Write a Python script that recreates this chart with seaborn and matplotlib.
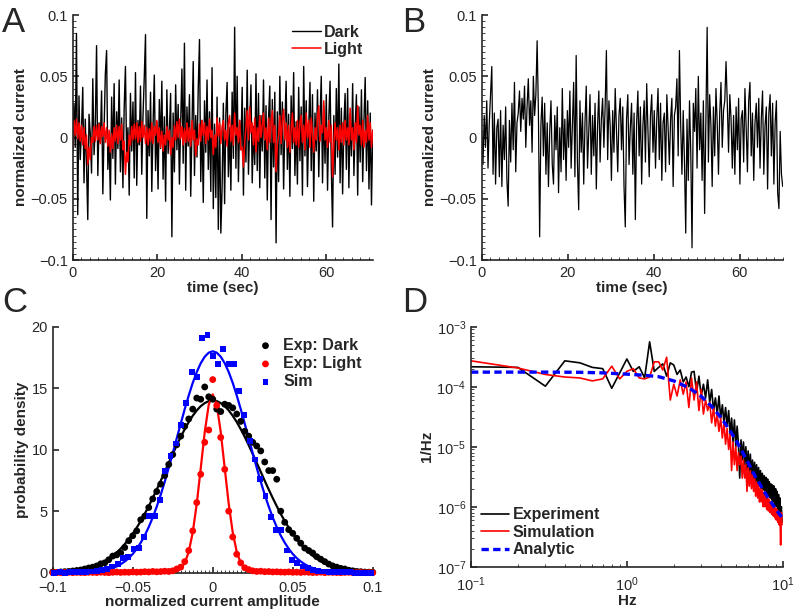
import matplotlib
matplotlib.use("Agg")
import matplotlib.pyplot as plt
from matplotlib.ticker import MultipleLocator
import numpy as np
import seaborn as sns

# ---- panel A: dark / light current traces (values in 1e-3 units of normalized current)
dark_a = [
    -12, 28, -8, 85, -63, 34, -18, 6, 41, -37, 15, -22, -67, 19, 3, -29, 48, -14, 9, 75,
    -31, 12, -4, 38, -46, 7, 52, 71, -26, 2, -51, 33, -17, 44, -38, 21, -9, 47, -28, 16,
    -41, 24, 58, -19, 8, -47, 36, -11, 29, -33, 53, -39, 14, -6, 42, -30, 18, 49, 84, -66,
    22, -15, 37, -44, 10, 51, -27, 13, -42, 31, -9, 46, -34, 17, -52, 39, -13, 5, 36, -81,
    20, -28, 43, -10, 27, -38, 12, 56, -21, 77, -43, 25, -7, 35, -48, 9, 62, -31, 18, -16,
    40, 80, -36, 14, -53, 30, -12, 47, -26, 21, -44, 57, -58, 11, -49, 33, -75, 16, -78, -41,
    28, -54, 19, 45, -32, 8, -43, 37, -17, 90, -25, 50, -36, 14, -10, 41, -47, 24, -20, 55,
    -30, 12, 43, -37, 9, -22, 52, -27, 36, -41, 18, -11, 47, -33, 26, -51, 15, 42, -67, 31,
    -24, 37, -86, 21, -36, 50, -14, 29, -42, 10, 46, -26, 19, -48, 34, -9, 53, -31, 13, -38,
    41, -19, 25, -47, 58, -15, 30, -40, 8, 45, -27, 35, -52, 20, -11, 39, -32, 14, 50, -37,
    26, -21, 35, -43, 15, 46, -25, -73, 18, -30, 40, -16, 60, -37, 24, -46, 10, 36, -26, 40,
    -41, 19, -15, 44, -31, 9, 35, -47, 25, -20, 39, -36, 13, 49, -27, 30, -42, 20, -55, 6,
]
light_a = [
    -8, 14, 2, 15, -1, 12, -3, 10, -6, 8, -9, 2, -22, -8, -18, 0, -4, 9, -3, 10,
    -2, 11, -5, 9, 1, 12, -4, 8, -7, 6, -12, 3, -9, 8, -3, 10, -5, 9, -2, 11,
    -10, -3, -30, -12, -20, 2, -6, 9, -2, 11, -1, 12, -4, 9, -3, 13, 0, 10, -5, 8,
    -6, 7, -3, 12, -5, 9, 2, 14, -4, 8, -8, 5, -11, 2, -6, 9, -2, 6, -14, 0,
    -8, 10, -2, 13, 0, 15, -1, 9, -6, 7, -4, 12, -3, 8, -7, 14, -2, 6, -15, -1,
    -6, 11, -3, 14, 2, 12, -5, 9, -2, 15, 0, 6, -14, 2, -8, 16, 1, 12, -5, 9,
    14, -2, 6, -7, 12, 18, -3, 10, -6, 20, 2, 8, -4, 14, -10, -8, -24, -4, 8, 22,
    -2, 25, 4, 12, -6, 16, -12, 8, -3, 18, 0, 10, 20, -2, 8, -10, 16, -4, 12, 22,
    -4, 10, -28, -6, 2, 18, -5, 14, 23, -2, 12, -8, 10, -12, 6, 20, -4, 8, -6, 14,
    -8, 12, 18, -4, 10, -10, 20, 0, 14, -8, 16, 2, -12, 8, -2, 17, 26, -3, 10, 4,
    30, -2, 8, -8, 14, -4, 10, -32, -6, 12, -2, 8, -10, 10, -4, 12, -6, 14, -2, 8,
    -6, 24, -2, 8, -10, 12, -4, 26, 2, 10, -6, 14, -8, 6, -4, 18, -2, 12, -8, 6,
]

# ---- panel B: simulated trace
sim_b = [
    5, -22, 18, -8, 30, -25, 12, 35, 58, -30, 20, -38, 8, 15, -32, 22, -40, 10, -18, 25,
    -35, -56, 14, -20, 28, -10, 45, -28, 12, 20, 38, 5, 32, 15, 42, -8, 25, 48, 10, 30,
    -12, 50, 18, 35, 79, 22, -81, 10, 33, -15, 28, -30, 12, -40, 5, 30, -22, -38, 18, -10,
    25, -45, 8, -28, 40, -18, 15, -35, 22, -8, 38, -25, 10, 45, -32, 67, -20, -59, 30, -12,
    20, -38, 12, 42, -25, 5, 35, -30, 18, -15, 28, -42, 10, 38, -20, 15, 32, -8, 25, 71,
    -18, 30, 10, -35, 22, -12, 40, 5, -28, 18, 32, -10, 25, -40, -73, 15, 35, -22, 8, 28,
    -30, 20, -67, 12, 38, -15, 25, -38, 10, 30, -20, 44, 5, -32, 18, 35, -12, 22, -25, 15,
    40, -18, 28, -35, 12, 20, -28, 35, 8, -22, 15, 32, -40, 18, 25, 48, -15, 71, 10, -30,
    22, -20, -78, 15, -35, 30, -12, -90, 28, 5, 40, -25, 50, -10, 20, -35, 30, -62, 15, 90,
    -20, 35, 10, -40, 25, -15, 40, 12, -30, 20, 45, -8, 22, 30, 62, 28, -12, 35, 15, -25,
    18, -30, 25, -10, 32, -38, 15, 22, -20, 40, 8, -28, 30, 45, -15, 20, -35, 12, 28, -8,
    32, -25, 15, 38, -30, 10, 25, -42, 20, 35, -15, 28, -38, 12, 30, -45, -58, 5, -30, -40,
]

# ---- panel C: amplitude histograms (bin step 0.0025) and gaussian fits
dark_pts = [
    0.05, 0.02, 0.06, 0.08, 0.1, 0.14, 0.18, 0.22, 0.3, 0.38,
    0.45, 0.55, 0.72, 0.8, 1.05, 1.35, 1.45, 1.6, 2.05, 2.6,
    3.0, 3.4, 4.3, 4.6, 5.3, 6.0, 6.6, 7.2, 7.9, 8.8,
    9.6, 10.4, 11.1, 11.9, 12.5, 13.3, 14.2, 14.1, 15.1, 14.3,
    14.1,
    13.3, 13.1, 13.7, 13.6, 13.4, 12.9, 12.3, 11.5, 11.1, 10.6,
    10.3, 9.9, 9.0, 8.3, 8.3, 7.6, 5.0, 4.1, 3.5, 3.2,
    2.8, 2.4, 2.0, 1.8, 1.6, 1.3, 1.1, 0.9, 0.7, 0.55,
    0.45, 0.35, 0.3, 0.2, 0.15, 0.1, 0.08, 0.05, 0.04, 0.03,
]
light_pts = [
    0.0, 0.02, 0.0, 0.01, 0.03, 0.0, 0.02, 0.01, 0.0, 0.03,
    0.02, 0.01, 0.04, 0.02, 0.0, 0.03, 0.05, 0.02, 0.04, 0.03,
    0.06, 0.04, 0.05, 0.08, 0.06, 0.1, 0.07, 0.09, 0.12, 0.1,
    0.15, 0.3, 0.45, 0.9, 1.8, 3.4, 5.7, 8.0, 10.6, 11.6,
    15.7,
    13.6, 11.0, 8.4, 5.0, 2.9, 1.5, 0.8, 0.4, 0.25, 0.15,
    0.1, 0.12, 0.08, 0.09, 0.06, 0.07, 0.05, 0.04, 0.06, 0.03,
    0.04, 0.02, 0.05, 0.03, 0.01, 0.02, 0.04, 0.0, 0.03, 0.02,
    0.01, 0.0, 0.02, 0.03, 0.0, 0.01, 0.02, 0.0, 0.01, 0.0,
]
# simulated histogram, bin step 0.0033
sim_pts = [
    0.0, 0.02, 0.0, 0.03, 0.02, 0.05, 0.04, 0.1, 0.14, 0.25,
    0.3, 0.5, 0.7, 1.17, 1.3, 1.9, 2.0, 2.9, 4.6, 4.6,
    5.9, 8.3, 9.5, 10.5, 12.0, 13.8, 16.3, 15.9, 19.1, 19.3,
    17.6,
    17.0, 18.2, 17.0, 17.0, 14.8, 12.8, 10.7, 9.2, 7.6, 6.2,
    4.5, 3.5, 3.5, 1.8, 1.0, 0.76, 0.5, 0.35, 0.25, 0.15,
    0.1, 0.06, 0.05, 0.03, 0.02, 0.02, 0.0, 0.01, 0.0, 0.0,
]
dark_fit = [
    0.04, 0.05, 0.07, 0.09, 0.11, 0.15, 0.19, 0.24, 0.31, 0.39,
    0.49, 0.61, 0.76, 0.93, 1.14, 1.37, 1.65, 1.96, 2.32, 2.72,
    3.17, 3.66, 4.20, 4.78, 5.41, 6.07, 6.76, 7.47, 8.20, 8.93,
    9.65, 10.36, 11.04, 11.67, 12.25, 12.76, 13.19, 13.54, 13.79, 13.95,
    14.0,
    13.95, 13.79, 13.54, 13.19, 12.76, 12.25, 11.67, 11.04, 10.36, 9.65,
    8.93, 8.20, 7.47, 6.76, 6.07, 5.41, 4.78, 4.20, 3.66, 3.17,
    2.72, 2.32, 1.96, 1.65, 1.37, 1.14, 0.93, 0.76, 0.61, 0.49,
    0.39, 0.31, 0.24, 0.19, 0.15, 0.11, 0.09, 0.07, 0.05, 0.04,
]
light_fit = [0.0] * 29 + [
    0.01, 0.04, 0.12, 0.32, 0.78, 1.70, 3.27, 5.59, 8.49, 11.43, 13.66,
    14.5,
    13.66, 11.43, 8.49, 5.59, 3.27, 1.70, 0.78, 0.32, 0.12, 0.04, 0.01,
] + [0.0] * 29
sim_fit = [
    0.0, 0.0, 0.0, 0.0, 0.0, 0.01, 0.01, 0.02, 0.03, 0.05,
    0.07, 0.10, 0.14, 0.20, 0.28, 0.38, 0.51, 0.69, 0.91, 1.18,
    1.52, 1.94, 2.44, 3.02, 3.71, 4.49, 5.37, 6.34, 7.40, 8.53,
    9.71, 10.92, 12.12, 13.30, 14.41, 15.43, 16.31, 17.03, 17.56, 17.89,
    18.0,
    17.89, 17.56, 17.03, 16.31, 15.43, 14.41, 13.30, 12.12, 10.92, 9.71,
    8.53, 7.40, 6.34, 5.37, 4.49, 3.71, 3.02, 2.44, 1.94, 1.52,
    1.18, 0.91, 0.69, 0.51, 0.38, 0.28, 0.20, 0.14, 0.10, 0.07,
    0.05, 0.03, 0.02, 0.01, 0.01, 0.0, 0.0, 0.0, 0.0, 0.0,
]

# ---- panel D: power spectra, 0.1 .. 9.9 Hz
psd_exp = [
    2.15e-4, 2.1e-4, 1.02e-4, 2.7e-4, 2.5e-4, 2.1e-4, 2.0e-4, 9.4e-5, 1.7e-4, 2.9e-4,
    1.8e-4, 2.15e-4, 1.4e-4, 5.6e-4, 1.8e-4, 2.1e-4, 2.4e-4, 1.5e-4, 2.5e-4, 2.3e-4,
    1.6e-4, 1.9e-4, 1.2e-4, 1.45e-4, 1.0e-4, 1.75e-4, 1.8e-4, 8.0e-5, 1.5e-4, 7.0e-5,
    1.1e-4, 6.5e-5, 1.3e-4, 5.5e-5, 9.0e-5, 4.0e-5, 6.5e-5, 3.5e-5, 7.0e-5, 3.0e-5,
    5.0e-5, 2.5e-5, 4.5e-5, 2.2e-5, 4.0e-5, 1.6e-5, 3.0e-5, 1.2e-5, 2.8e-5, 1.0e-5,
    2.2e-5, 1.1e-5, 3.0e-6, 1.3e-5, 6.0e-6, 1.2e-5, 5.0e-6, 1.0e-5, 4.0e-6, 8.5e-6,
    3.5e-6, 7.5e-6, 3.2e-6, 6.0e-6, 2.8e-6, 5.5e-6, 2.6e-6, 5.0e-6, 2.4e-6, 4.5e-6,
    2.2e-6, 4.0e-6, 2.0e-6, 3.6e-6, 1.9e-6, 3.3e-6, 1.8e-6, 3.1e-6, 1.6e-6, 2.9e-6,
    1.5e-6, 2.6e-6, 1.4e-6, 2.4e-6, 1.3e-6, 2.3e-6, 1.2e-6, 2.2e-6, 1.1e-6, 2.0e-6,
    1.0e-6, 1.8e-6, 9.0e-7, 1.6e-6, 8.0e-7, 1.4e-6, 7.0e-7, 1.0e-6, 5.5e-7,
]
psd_sim = [
    2.7e-4, 2.05e-4, 1.6e-4, 1.45e-4, 1.4e-4, 1.25e-4, 1.35e-4, 2.2e-4, 1.35e-4, 1.8e-4,
    2.0e-4, 1.4e-4, 1.35e-4, 1.45e-4, 2.6e-4, 2.6e-4, 1.9e-4, 3.1e-4, 6.0e-5, 1.1e-4,
    7.0e-5, 1.3e-4, 7.5e-5, 1.2e-4, 4.5e-5, 1.4e-4, 6.0e-5, 1.2e-4, 4.0e-5, 9.0e-5,
    3.5e-5, 6.0e-5, 4.0e-5, 5.5e-5, 2.5e-5, 4.5e-5, 2.2e-5, 3.5e-5, 1.8e-5, 3.0e-5,
    1.4e-5, 2.5e-5, 1.1e-5, 2.0e-5, 9.0e-6, 1.6e-5, 4.0e-6, 1.2e-5, 5.0e-6, 1.0e-5,
    4.0e-6, 8.0e-6, 5.0e-6, 7.0e-6, 3.0e-6, 6.0e-6, 3.0e-6, 5.0e-6, 1.8e-6, 4.5e-6,
    2.2e-6, 4.0e-6, 2.0e-6, 3.5e-6, 1.8e-6, 3.0e-6, 1.5e-6, 2.6e-6, 1.4e-6, 2.4e-6,
    1.2e-6, 2.0e-6, 1.2e-6, 1.9e-6, 1.0e-6, 1.7e-6, 1.0e-6, 1.5e-6, 9.0e-7, 1.4e-6,
    8.5e-7, 1.3e-6, 8.0e-7, 1.2e-6, 7.5e-7, 1.1e-6, 7.0e-7, 1.0e-6, 6.5e-7, 9.5e-7,
    6.0e-7, 9.0e-7, 5.5e-7, 8.5e-7, 5.0e-7, 7.5e-7, 2.3e-7, 8.0e-7, 5.0e-7,
]
freq_an = [0.1, 0.2, 0.3, 0.5, 0.7, 1.0, 1.3, 1.6, 2.0, 2.5, 3.0, 3.5, 4.0, 4.5,
           5.0, 5.5, 6.0, 6.5, 7.0, 7.5, 8.0, 8.5, 9.0, 9.5, 10.0]
psd_an = [1.75e-4, 1.75e-4, 1.75e-4, 1.74e-4, 1.7e-4, 1.62e-4, 1.55e-4, 1.47e-4, 1.25e-4,
          9.6e-5, 6.9e-5, 4.7e-5, 3.1e-5, 2.0e-5, 1.3e-5, 8.3e-6, 5.4e-6, 3.6e-6, 2.6e-6,
          1.9e-6, 1.45e-6, 1.15e-6, 9.2e-7, 7.6e-7, 6.4e-7]

trace_yticks = [-0.1, -0.05, 0, 0.05, 0.1]
trace_ylabels = ["\u22120.1", "\u22120.05", "0", "0.05", "0.1"]
amp_xticks = [-0.1, -0.05, 0, 0.05, 0.1]
amp_xlabels = ["\u22120.1", "\u22120.05", "0", "0.05", "0.1"]

sns.set_style("ticks")
plt.rcParams["font.family"] = ["Liberation Sans", "DejaVu Sans"]
plt.rcParams["xtick.direction"] = "in"
plt.rcParams["ytick.direction"] = "in"
plt.rcParams["axes.linewidth"] = 1.2
plt.rcParams["xtick.major.width"] = 1.2
plt.rcParams["ytick.major.width"] = 1.2
plt.rcParams["xtick.major.size"] = 4
plt.rcParams["ytick.major.size"] = 4
plt.rcParams["xtick.minor.size"] = 2.2
plt.rcParams["ytick.minor.size"] = 2.2
plt.rcParams["xtick.labelsize"] = 10.5
plt.rcParams["ytick.labelsize"] = 10.5

fig = plt.figure(figsize=(7.99, 6.14), dpi=100)
ax_a = fig.add_axes([0.091, 0.5765, 0.3755, 0.399])
ax_b = fig.add_axes([0.6029, 0.5765, 0.3767, 0.399])
ax_c = fig.add_axes([0.066, 0.0673, 0.4005, 0.4006])
ax_d = fig.add_axes([0.5895, 0.077, 0.3901, 0.3909])

lab = dict(fontsize=11, fontweight="bold")
leg_font = {"weight": "bold", "size": 11.5}

# panel A
t_a = np.linspace(0, 71, len(dark_a))
sns.lineplot(x=t_a, y=np.array(dark_a) / 1000, ax=ax_a, color="black", linewidth=1.0, label="Dark")
sns.lineplot(x=t_a, y=np.array(light_a) / 1000, ax=ax_a, color="red", linewidth=1.1, label="Light")
ax_a.set_xlim(0, 71)

# panel B
t_b = np.linspace(0, 70, len(sim_b))
sns.lineplot(x=t_b, y=np.array(sim_b) / 1000, ax=ax_b, color="black", linewidth=0.9)
ax_b.set_xlim(0, 70)

for ax in (ax_a, ax_b):
    ax.set_ylim(-0.1, 0.1)
    ax.set_yticks(trace_yticks)
    ax.set_yticklabels(trace_ylabels)
    ax.set_xticks([0, 20, 40, 60])
    ax.xaxis.set_minor_locator(MultipleLocator(2))
    ax.yaxis.set_minor_locator(MultipleLocator(0.005))
    ax.tick_params(axis="x", pad=4)
    ax.set_xlabel("time (sec)", labelpad=1, **lab)
    ax.set_ylabel("normalized current", labelpad=2, **lab)

ax_a.legend(loc="upper right", frameon=False, prop=leg_font, handlelength=1.8,
            handletextpad=0.2, labelspacing=0.15, borderaxespad=0.2)

# panel C
x_c = np.linspace(-0.1, 0.1, 81)
x_sim = np.linspace(-0.099, 0.099, 61)
sns.scatterplot(x=x_c, y=dark_pts, ax=ax_c, color="black", marker="o", s=24,
                edgecolor="none", clip_on=False, zorder=3, label="Exp: Dark")
sns.scatterplot(x=x_c, y=light_pts, ax=ax_c, color="red", marker="o", s=24,
                edgecolor="none", clip_on=False, zorder=3, label="Exp: Light")
sns.scatterplot(x=x_sim, y=sim_pts, ax=ax_c, color="blue", marker="s", s=18,
                edgecolor="none", clip_on=False, zorder=3, label="Sim")
sns.lineplot(x=x_c, y=dark_fit, ax=ax_c, color="black", linewidth=1.6, legend=False)
sns.lineplot(x=x_c, y=sim_fit, ax=ax_c, color="blue", linewidth=1.6, legend=False)
sns.lineplot(x=x_c, y=light_fit, ax=ax_c, color="red", linewidth=1.6, legend=False)
ax_c.set_xlim(-0.1, 0.1)
ax_c.set_ylim(0, 20)
ax_c.set_xticks(amp_xticks)
ax_c.set_xticklabels(amp_xlabels)
ax_c.set_yticks([0, 5, 10, 15, 20])
ax_c.xaxis.set_minor_locator(MultipleLocator(0.0025))
ax_c.tick_params(axis="x", pad=6)
ax_c.set_xlabel("normalized current amplitude", labelpad=0, **lab)
ax_c.set_ylabel("probability density", labelpad=2, **lab)
ax_c.legend(loc="upper right", frameon=False, prop=leg_font, handletextpad=0.1,
            labelspacing=0.2, borderaxespad=0.3, markerscale=1.0)

# panel D
freq = np.linspace(0.1, 9.9, 99)
sns.lineplot(x=freq, y=psd_exp, ax=ax_d, color="black", linewidth=1.2, label="Experiment")
sns.lineplot(x=freq, y=psd_sim, ax=ax_d, color="red", linewidth=1.2, label="Simulation")
sns.lineplot(x=freq_an, y=psd_an, ax=ax_d, color="blue", linewidth=2.4, linestyle="--",
             label="Analytic")
ax_d.lines[-1].set_dashes([2.2, 1.3])
ax_d.set_xscale("log")
ax_d.set_yscale("log")
ax_d.set_xlim(0.1, 10)
ax_d.set_ylim(1e-7, 1e-3)
ax_d.tick_params(axis="x", pad=6)
ax_d.set_xlabel("Hz", labelpad=0, **lab)
ax_d.set_ylabel("1/Hz", labelpad=2, **lab)
leg = ax_d.legend(loc="lower left", frameon=False, prop=leg_font, handlelength=1.8,
                  handletextpad=0.2, labelspacing=0.15, borderaxespad=0.2)
leg.get_lines()[2].set_dashes([2.2, 1.3])

for ax in (ax_a, ax_b, ax_c, ax_d):
    ax.spines["top"].set_visible(False)
    ax.spines["right"].set_visible(False)
    ax.tick_params(which="both", top=False, right=False)

for letter, x, y in (("A", 0.003, 0.99), ("B", 0.503, 0.99), ("C", 0.003, 0.535), ("D", 0.503, 0.535)):
    fig.text(x, y, letter, fontsize=25, va="top", ha="left")

fig.savefig("out.png", dpi=100)
